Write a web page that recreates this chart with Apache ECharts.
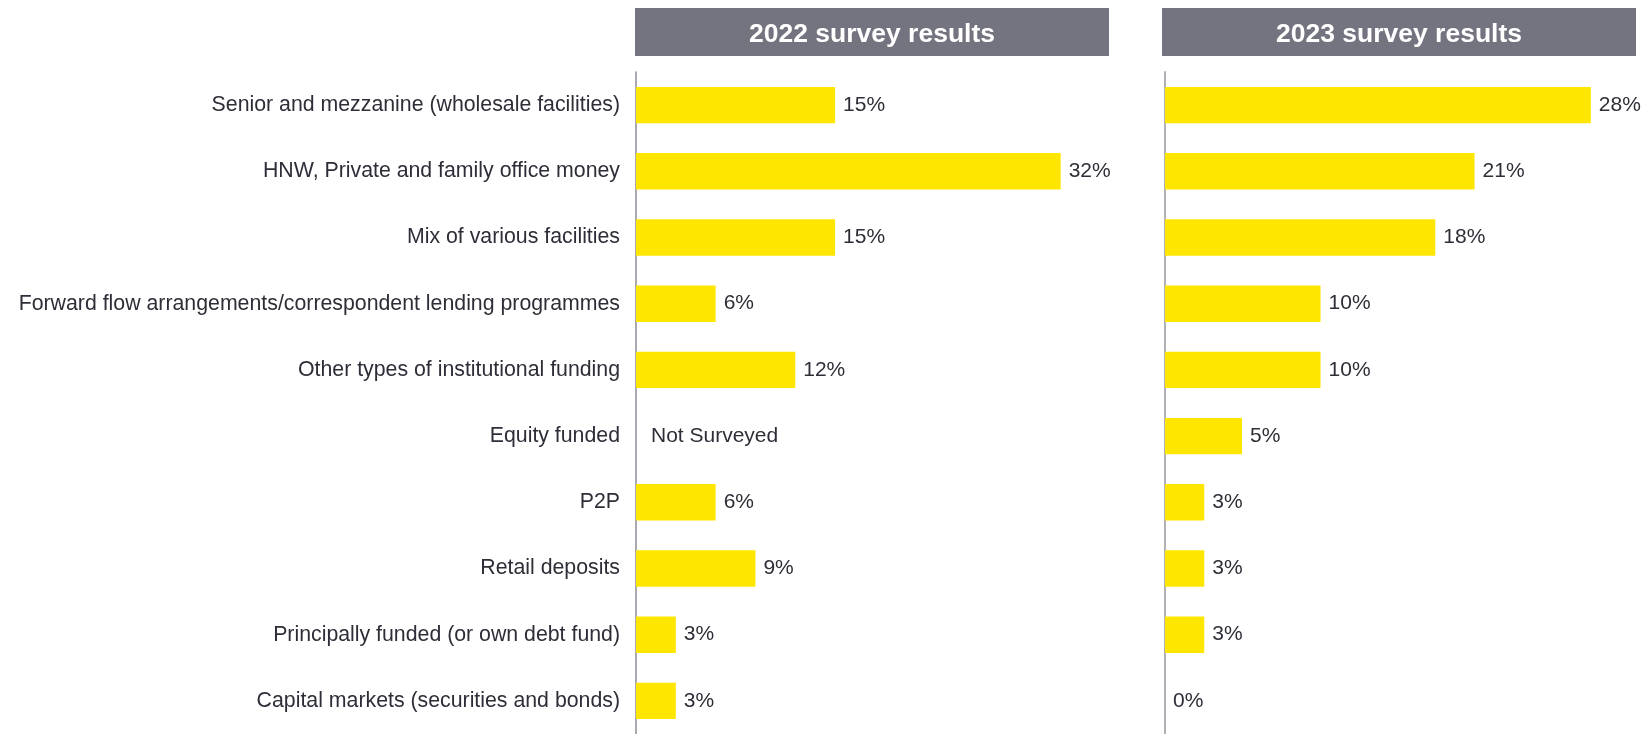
<!DOCTYPE html>
<html>
<head>
<meta charset="utf-8">
<title>Funding sources survey</title>
<script src="https://cdn.jsdelivr.net/npm/echarts@6/dist/echarts.min.js"></script>
<style>
  html, body { margin: 0; padding: 0; background: #fff; }
  #main { width: 1645px; height: 734px; }
</style>
</head>
<body>
<div id="main"></div>
<script>
// data (2023 bar lengths, labels are rounded)
var categories = [
  'Senior and mezzanine (wholesale facilities)',
  'HNW, Private and family office money',
  'Mix of various facilities',
  'Forward flow arrangements/correspondent lending programmes',
  'Other types of institutional funding',
  'Equity funded',
  'P2P',
  'Retail deposits',
  'Principally funded (or own debt fund)',
  'Capital markets (securities and bonds)'
];
var values2022 = [15, 32, 15, 6, 12, null, 6, 9, 3, 3]; // null = not surveyed
var values2023 = [28.2, 20.5, 17.9, 10.3, 10.3, 5.1, 2.6, 2.6, 2.6, 0];
var panelTitles = ['2022 survey results', '2023 survey results'];

var FONT = '"Liberation Sans", Arial, sans-serif';
var TEXT = '#2e2e38';
var YELLOW = '#ffe600';
var HEADER = '#747480';

var myChart = echarts.init(document.getElementById('main'));

function toBars(vals) {
  return vals.map(function (v) {
    if (v === null) {
      return { value: 0, label: { formatter: 'Not Surveyed', distance: 15 } };
    }
    return v;
  });
}

function barSeries(idx, vals) {
  return {
    type: 'bar',
    xAxisIndex: idx,
    yAxisIndex: idx,
    data: toBars(vals),
    barWidth: '55%',
    itemStyle: { color: YELLOW },
    silent: true,
    label: {
      show: true,
      position: 'right',
      distance: 8,
      padding: [6, 0, 0, 0],
      formatter: function (p) { return Math.round(p.value) + '%'; },
      color: TEXT,
      fontSize: 21,
      fontFamily: FONT
    }
  };
}

function header(x, w, text) {
  return {
    type: 'group',
    children: [
      { type: 'rect', shape: { x: x, y: 8, width: w, height: 48 }, style: { fill: HEADER } },
      {
        type: 'text', x: x + w / 2, y: 35,
        style: {
          text: text, fill: '#fff', font: 'bold 26.5px ' + FONT,
          textAlign: 'center', textVerticalAlign: 'middle'
        }
      }
    ]
  };
}

myChart.setOption({
  backgroundColor: '#fff',
  animation: false,
  grid: [
    { left: 636, top: 72, width: 464.5, height: 666 },
    { left: 1165, top: 72, width: 453, height: 666 }
  ],
  xAxis: [
    { gridIndex: 0, type: 'value', min: 0, max: 35, show: false },
    { gridIndex: 1, type: 'value', min: 0, max: 30, show: false }
  ],
  yAxis: [
    {
      gridIndex: 0, type: 'category', data: categories, inverse: true,
      axisLine: { show: true, lineStyle: { color: '#8c8c94', width: 1.5 } },
      axisTick: { show: false },
      axisLabel: {
        margin: 16, color: TEXT, fontSize: 21.3, fontFamily: FONT,
        padding: [6, 0, 0, 0]
      }
    },
    {
      gridIndex: 1, type: 'category', data: categories, inverse: true,
      axisLine: { show: true, lineStyle: { color: '#b0b0b6', width: 2 } },
      axisTick: { show: false },
      axisLabel: { show: false }
    }
  ],
  graphic: [
    header(635, 474, panelTitles[0]),
    header(1162, 474, panelTitles[1])
  ],
  series: [
    barSeries(0, values2022),
    barSeries(1, values2023)
  ]
});
</script>
</body>
</html>
